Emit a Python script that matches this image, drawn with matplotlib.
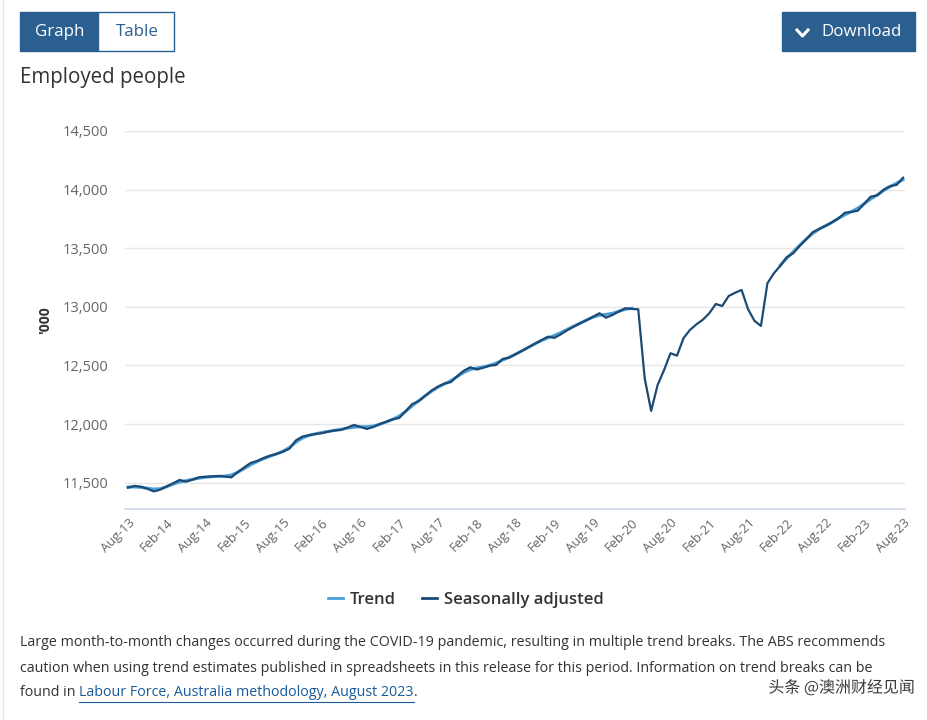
import matplotlib
matplotlib.use("Agg")
import matplotlib.pyplot as plt
import matplotlib.patches as mpatches
import matplotlib.patheffects as pe
from matplotlib.lines import Line2D
import numpy as np

plt.rcParams['font.family'] = ['Open Sans', 'DejaVu Sans']

# monthly, Aug-13 .. Aug-23 ('000 employed)
seasonally_adjusted = [
    11457, 11472, 11465, 11448, 11425, 11440, 11468, 11495, 11523, 11508,
    11525, 11546, 11550, 11553, 11557, 11552, 11545, 11590, 11630, 11668,
    11685, 11710, 11730, 11745, 11764, 11790, 11860, 11893, 11905, 11915,
    11922, 11935, 11945, 11950, 11970, 11992, 11975, 11958, 11975, 12000,
    12020, 12040, 12052, 12110, 12170, 12195, 12240, 12285, 12320, 12345,
    12358, 12410, 12455, 12484, 12465, 12480, 12498, 12504, 12555, 12565,
    12595, 12625, 12655, 12685, 12715, 12745, 12735, 12765, 12800, 12830,
    12858, 12885, 12915, 12945, 12907, 12930, 12960, 12988, 12982, 12979,
    12390, 12112, 12333, 12461, 12604, 12583, 12732, 12802, 12850, 12890,
    12945, 13024, 13007, 13092, 13120, 13144, 12980, 12880, 12837, 13201,
    13286, 13350, 13423, 13457, 13520, 13575, 13636, 13665, 13690, 13720,
    13755, 13803, 13810, 13820, 13880, 13940, 13950, 14000, 14030, 14040,
    14102,
]

nan = float('nan')
trend = [
    11462, 11463, 11460, 11452, 11445, 11448, 11465, 11488, 11505, 11517,
    11528, 11538, 11546, 11551, 11553, 11555, 11565, 11588, 11620, 11652,
    11680, 11704, 11725, 11745, 11768, 11800, 11845, 11880, 11902, 11916,
    11927, 11937, 11946, 11955, 11965, 11973, 11976, 11977, 11983, 11998,
    12018, 12040, 12068, 12108, 12155, 12198, 12240, 12280, 12314, 12342,
    12370, 12405, 12440, 12465, 12478, 12487, 12500, 12520, 12545, 12570,
    12596, 12624, 12654, 12684, 12712, 12735, 12755, 12780, 12808, 12835,
    12862, 12888, 12912, 12928, 12935, 12945, 12962, 12978, 12988, nan,
    nan, nan, nan, nan, nan, nan, nan, nan, nan, nan,
    nan, nan, nan, nan, nan, nan, nan, nan, nan, nan,
    nan, 13355, 13415, 13470, 13525, 13578, 13625, 13662, 13692, 13722,
    13755, 13785, 13812, 13842, 13880, 13920, 13955, 13992, 14025, 14055,
    14085,
]

tick_labels = ['Aug-13', 'Feb-14', 'Aug-14', 'Feb-15', 'Aug-15', 'Feb-16', 'Aug-16',
               'Feb-17', 'Aug-17', 'Feb-18', 'Aug-18', 'Feb-19', 'Aug-19', 'Feb-20',
               'Aug-20', 'Feb-21', 'Aug-21', 'Feb-22', 'Aug-22', 'Feb-23', 'Aug-23']
y_ticks = [11500, 12000, 12500, 13000, 13500, 14000, 14500]

W, H = 927, 720
fig = plt.figure(figsize=(W / 100, H / 100), dpi=100)
fig.patch.set_facecolor('white')

def fx(px):
    return px / W

def fy(py):
    return 1 - py / H

ax = fig.add_axes([fx(125), fy(509), fx(905) - fx(125), fy(131) - fy(509)])
months = np.arange(len(seasonally_adjusted))
ax.plot(months, trend, color='#4a9fd8', lw=2.2, zorder=3)
ax.plot(months, seasonally_adjusted, color='#1d4a72', lw=1.6, zorder=4)

ax.set_xlim(-0.46, 120.3)
ax.set_ylim(11275, 14500)
ax.set_yticks(y_ticks)
ax.set_yticklabels([f'{v:,}' for v in y_ticks], color='#666666', fontsize=10.5)
ax.set_xticks(np.arange(0, 121, 6))
ax.set_xticklabels(tick_labels, rotation=45, ha='right', rotation_mode='anchor',
                   color='#666666', fontsize=9.3)
ax.tick_params(axis='y', length=0, pad=12)
ax.tick_params(axis='x', length=0, pad=5)
ax.grid(axis='y', color='#e6e6e6', lw=1)
ax.set_axisbelow(True)
for s in ['top', 'right', 'left']:
    ax.spines[s].set_visible(False)
ax.spines['bottom'].set_color('#ccd6eb')
ax.spines['bottom'].set_linewidth(1.2)

fig.text(fx(45), fy(320), "'000", rotation=90, ha='center', va='center',
         fontsize=10, color='#333333', fontweight='bold')

# legend
handles = [Line2D([], [], color='#4a9fd8', lw=2),
           Line2D([], [], color='#1d4a72', lw=2)]
fig.legend(handles, ['Trend', 'Seasonally adjusted'], loc='center',
           bbox_to_anchor=(fx(466), fy(600)), ncol=2, frameon=False,
           handlelength=0.9, handletextpad=0.4, columnspacing=1.6,
           prop={'size': 12, 'weight': 'semibold'}, labelcolor='#333333')

# buttons
blue = '#2b5f8f'
fig.add_artist(mpatches.Rectangle((fx(20), fy(51)), fx(78), fy(12) - fy(51),
                                  facecolor=blue, edgecolor=blue, transform=fig.transFigure))
fig.add_artist(mpatches.Rectangle((fx(98), fy(51)), fx(76), fy(12) - fy(51),
                                  facecolor='white', edgecolor=blue, lw=1, transform=fig.transFigure))
fig.text(fx(60), fy(32), 'Graph', ha='center', va='center', color='white', fontsize=12.2)
fig.text(fx(137), fy(32), 'Table', ha='center', va='center', color='#2b5f8f', fontsize=12.2)
fig.add_artist(mpatches.Rectangle((fx(782), fy(51)), fx(133), fy(12) - fy(51),
                                  facecolor=blue, edgecolor=blue, transform=fig.transFigure))
fig.add_artist(Line2D([fx(797), fx(802.5), fx(808)], [fy(30), fy(36), fy(30)],
                      color='white', lw=2.2, transform=fig.transFigure))
fig.text(fx(862), fy(32), 'Download', ha='center', va='center', color='white', fontsize=12.2)

fig.text(fx(20), fy(78), 'Employed people', ha='left', va='center', color='#333333', fontsize=14.8)

# left page border
fig.add_artist(Line2D([fx(3), fx(3)], [0, 1], color='#e8e8e8', lw=1, transform=fig.transFigure))

# footnote
fs = 10.3
note_kw = dict(ha='left', va='center', color='#333333', fontsize=fs)
fig.text(fx(20), fy(643), 'Large month-to-month changes occurred during the COVID-19 pandemic, '
         'resulting in multiple trend breaks. The ABS recommends', **note_kw)
fig.text(fx(20), fy(668), 'caution when using trend estimates published in spreadsheets in this '
         'release for this period. Information on trend breaks can be', **note_kw)
t1 = fig.text(fx(20), fy(693), 'found in ', **note_kw)
fig.canvas.draw()
r = fig.canvas.get_renderer()
bb = t1.get_window_extent(r)
t2 = fig.text(bb.x1 / W, fy(693), 'Labour Force, Australia methodology, August 2023',
              ha='left', va='center', color='#1a5a9a', fontsize=fs)
bb2 = t2.get_window_extent(r)
fig.text(bb2.x1 / W, fy(693), '.', **note_kw)
fig.add_artist(Line2D([bb.x1 / W, bb2.x1 / W], [fy(702), fy(702)], color='#1a5a9a',
                      lw=0.8, transform=fig.transFigure))

# watermark
fig.text(fx(915), fy(688), '头条 @澳洲财经见闻', ha='right', va='center', fontsize=11.5,
         color='#3a3a3a', family=['Noto Sans CJK SC', 'DejaVu Sans'],
         path_effects=[pe.withStroke(linewidth=2.5, foreground='white')])

fig.savefig('out.png', dpi=100)
